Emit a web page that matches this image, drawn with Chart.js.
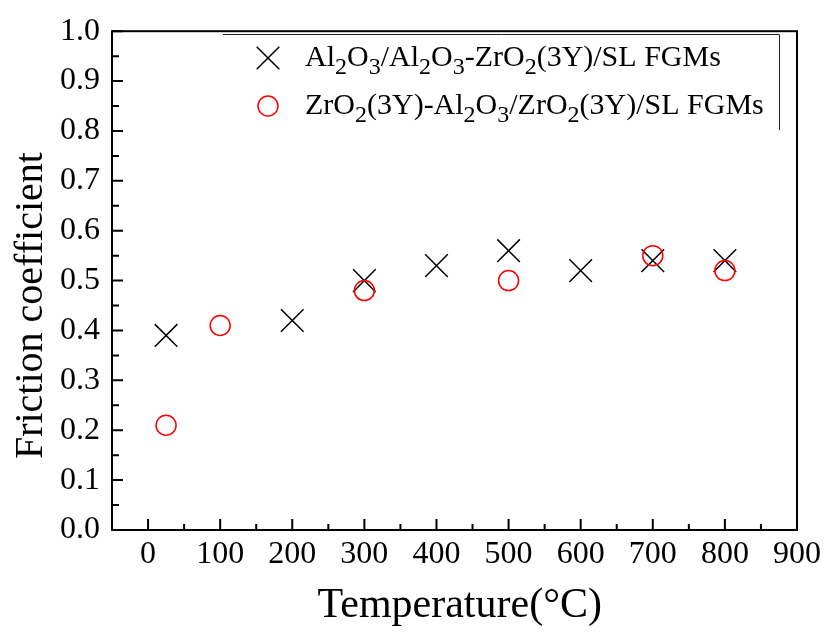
<!DOCTYPE html>
<html>
<head>
<meta charset="utf-8">
<script src="https://cdn.jsdelivr.net/npm/chart.js@4"></script>
<style>
  html, body { margin: 0; padding: 0; background: #fff; }
  #wrap { width: 826px; height: 636px; }
</style>
</head>
<body>
<div id="wrap"><canvas id="frictionChart" width="826" height="636"></canvas></div>
<script>
// Datos
const alTemps = [25, 200, 300, 400, 500, 600, 700, 800];
const alFriction = [0.39, 0.42, 0.50, 0.53, 0.56, 0.52, 0.54, 0.54];
const zrTemps = [25, 100, 300, 500, 700, 800];
const zrFriction = [0.21, 0.41, 0.48, 0.50, 0.55, 0.52];

const seriesLabels = [
    'Al₂O₃/Al₂O₃-ZrO₂(3Y)/SL FGMs',
    'ZrO₂(3Y)-Al₂O₃/ZrO₂(3Y)/SL FGMs'
];
const xTickValues = [0, 100, 200, 300, 400, 500, 600, 700, 800, 900];
const yTickValues = [0.0, 0.1, 0.2, 0.3, 0.4, 0.5, 0.6, 0.7, 0.8, 0.9, 1.0];
const xMinorValues = [50, 150, 250, 350, 450, 550, 650, 750, 850];
const yMinorValues = [0.05, 0.15, 0.25, 0.35, 0.45, 0.55, 0.65, 0.75, 0.85, 0.95];

const serif = "'Liberation Serif', 'Times New Roman', serif";

function toPoints(xs, ys) {
    return xs.map((x, i) => ({ x: x, y: ys[i] }));
}

// Texto con subíndices (₀-₉)
function drawSubText(ctx, text, x, y) {
    const subs = '₀₁₂₃₄₅₆₇₈₉';
    ctx.fillStyle = '#000';
    ctx.textBaseline = 'alphabetic';
    ctx.textAlign = 'left';
    let cx = x;
    for (const ch of text) {
        const k = subs.indexOf(ch);
        if (k >= 0) {
            ctx.font = '24px ' + serif;
            ctx.fillText(String(k), cx, y + 8);
            cx += ctx.measureText(String(k)).width;
        } else {
            ctx.font = '30px ' + serif;
            ctx.fillText(ch, cx, y);
            cx += ctx.measureText(ch).width;
        }
    }
}

// Marco, marcas hacia dentro y leyenda con subíndices
const framePlugin = {
    id: 'framePlugin',
    afterDraw(chart) {
        const ctx = chart.ctx;
        const area = chart.chartArea;
        const xs = chart.scales.x;
        const ys = chart.scales.y;
        ctx.save();
        ctx.strokeStyle = '#000';
        ctx.lineWidth = 2;
        ctx.strokeRect(area.left, area.top, area.right - area.left, area.bottom - area.top);

        ctx.beginPath();
        xTickValues.forEach(v => {
            const px = xs.getPixelForValue(v);
            ctx.moveTo(px, area.bottom); ctx.lineTo(px, area.bottom - 11);
        });
        xMinorValues.forEach(v => {
            const px = xs.getPixelForValue(v);
            ctx.moveTo(px, area.bottom); ctx.lineTo(px, area.bottom - 6);
        });
        yTickValues.forEach(v => {
            const py = ys.getPixelForValue(v);
            ctx.moveTo(area.left, py); ctx.lineTo(area.left + 11, py);
        });
        yMinorValues.forEach(v => {
            const py = ys.getPixelForValue(v);
            ctx.moveTo(area.left, py); ctx.lineTo(area.left + 7, py);
        });
        ctx.stroke();

        // Caja de la leyenda (solo borde superior y derecho)
        ctx.lineWidth = 1;
        ctx.strokeStyle = '#222';
        ctx.beginPath();
        ctx.moveTo(223, 34.5); ctx.lineTo(779.5, 34.5); ctx.lineTo(779.5, 130);
        ctx.stroke();

        chart.data.datasets.forEach((ds, i) => {
            const cy = 58 + 48 * i;
            ctx.strokeStyle = ds.borderColor;
            ctx.fillStyle = ds.backgroundColor;
            ctx.lineWidth = ds.borderWidth;
            Chart.helpers.drawPoint(ctx, {
                pointStyle: ds.pointStyle,
                radius: ds.pointRadius,
                borderWidth: ds.borderWidth
            }, 268, cy);
            drawSubText(ctx, ds.label, 305, cy + 8);
        });
        ctx.restore();
    }
};

function drawFrictionChart() {
    const ctx = document.getElementById('frictionChart').getContext('2d');
    new Chart(ctx, {
        type: 'scatter',
        data: {
            datasets: [{
                label: seriesLabels[0],
                data: toPoints(alTemps, alFriction),
                pointStyle: 'crossRot',
                pointRadius: 16,
                borderColor: '#000',
                backgroundColor: '#000',
                borderWidth: 1.5,
                order: 2
            }, {
                label: seriesLabels[1],
                data: toPoints(zrTemps, zrFriction),
                pointStyle: 'circle',
                pointRadius: 10,
                borderColor: '#ff0000',
                backgroundColor: 'rgba(0,0,0,0)',
                borderWidth: 1.5,
                order: 1
            }]
        },
        options: {
            responsive: false,
            animation: false,
            events: [],
            layout: { padding: { top: 21, right: 25, left: 0, bottom: 0 } },
            plugins: {
                legend: { display: false },
                tooltip: { enabled: false }
            },
            scales: {
                x: {
                    type: 'linear',
                    min: -50,
                    max: 900,
                    afterBuildTicks: s => { s.ticks = xTickValues.map(v => ({ value: v })); },
                    afterFit: s => { s.height = 106; },
                    grid: { display: false, drawTicks: false },
                    border: { display: false },
                    ticks: {
                        color: '#000',
                        padding: 5,
                        maxRotation: 0,
                        font: { family: serif, size: 32 }
                    },
                    title: {
                        display: true,
                        text: '\u00a0Temperature(°C)',
                        color: '#000',
                        padding: { top: 0, bottom: 5 },
                        font: { family: serif, size: 42, lineHeight: 1.2 }
                    }
                },
                y: {
                    type: 'linear',
                    min: 0,
                    max: 1,
                    afterBuildTicks: s => { s.ticks = yTickValues.map(v => ({ value: v })); },
                    afterFit: s => { s.width = 112; },
                    grid: { display: false, drawTicks: false },
                    border: { display: false },
                    ticks: {
                        color: '#000',
                        padding: 12,
                        font: { family: serif, size: 32 },
                        callback: v => v.toFixed(1)
                    },
                    title: {
                        display: true,
                        text: 'Friction coefficient\u00a0\u00a0\u00a0\u00a0\u00a0',
                        color: '#000',
                        padding: { top: 7, bottom: 0 },
                        font: { family: serif, size: 40, lineHeight: 1.2 }
                    }
                }
            }
        },
        plugins: [framePlugin]
    });
}

window.addEventListener('DOMContentLoaded', drawFrictionChart);
</script>
</body>
</html>
